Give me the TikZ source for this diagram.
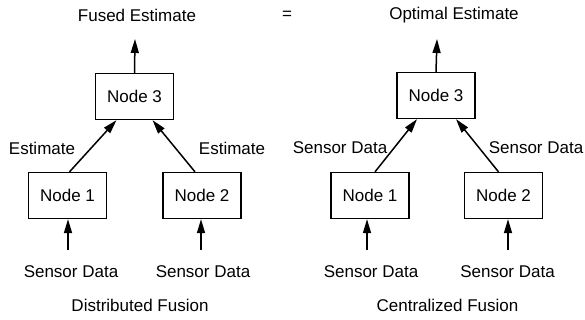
\documentclass[tikz,border=0pt]{standalone}
\usepackage{fontspec}
\setmainfont{Liberation Sans}
\usetikzlibrary{arrows.meta}
\begin{document}
\begin{tikzpicture}[x=1pt,y=-1pt,
  every node/.style={font=\fontsize{17}{20}\selectfont, inner sep=0pt},
  box/.style={draw, line width=1.3pt, minimum width=78pt, minimum height=46pt},
  arr/.style={line width=1.5pt, -{Triangle[length=14pt,width=8pt]}}]
\useasboundingbox (0,0) rectangle (585,320);

% ---- distributed fusion ----
\node[box] (N3L) at (134.5,96.5) {Node 3};
\node[box] (N1L) at (67.5,195.5) {Node 1};
\node[box] (N2L) at (202,195.5) {Node 2};
\node (topL) at (137,15) {Fused Estimate};
\node (eq) at (287,15) {=};
\coordinate (outL) at (135,39);
\coordinate (s1L) at (68,250);
\coordinate (s2L) at (201,250);
\draw[arr] (N3L.north) -- (outL);
\draw[arr] ([xshift=2pt]N1L.north) -- ([xshift=-18pt]N3L.south);
\draw[arr] ([xshift=-7pt]N2L.north) -- ([xshift=18pt]N3L.south);
\draw[arr] (s1L) -- (s1L |- N1L.south);
\draw[arr] (s2L) -- (s2L |- N2L.south);
\node (eL1) at (42,148) {Estimate};
\node (eL2) at (232,148) {Estimate};
\node (sdL1) at (71,272) {Sensor Data};
\node (sdL2) at (203,272) {Sensor Data};
\node (capL) at (140,305) {Distributed Fusion};

% ---- centralized fusion ----
\node[box] (N3R) at (436,95.5) {Node 3};
\node[box] (N1R) at (370,195.5) {Node 1};
\node[box] (N2R) at (503.5,195.5) {Node 2};
\node (topR) at (454,15) {Optimal Estimate};
\coordinate (outR) at (437,39);
\coordinate (s1R) at (367,250);
\coordinate (s2R) at (508,250);
\draw[arr] (N3R.north) -- (outR);
\draw[arr] ([xshift=5pt]N1R.north) -- ([xshift=-19pt]N3R.south);
\draw[arr] ([xshift=-5pt]N2R.north) -- ([xshift=20pt]N3R.south);
\draw[arr] (s1R) -- (s1R |- N1R.south);
\draw[arr] (s2R) -- (s2R |- N2R.south);
\node (eR1) at (340,148) {Sensor Data};
\node (eR2) at (536,148) {Sensor Data};
\node (sdR1) at (371,272) {Sensor Data};
\node (sdR2) at (507.5,272) {Sensor Data};
\node (capR) at (447.5,305) {Centralized Fusion};
\end{tikzpicture}
\end{document}
